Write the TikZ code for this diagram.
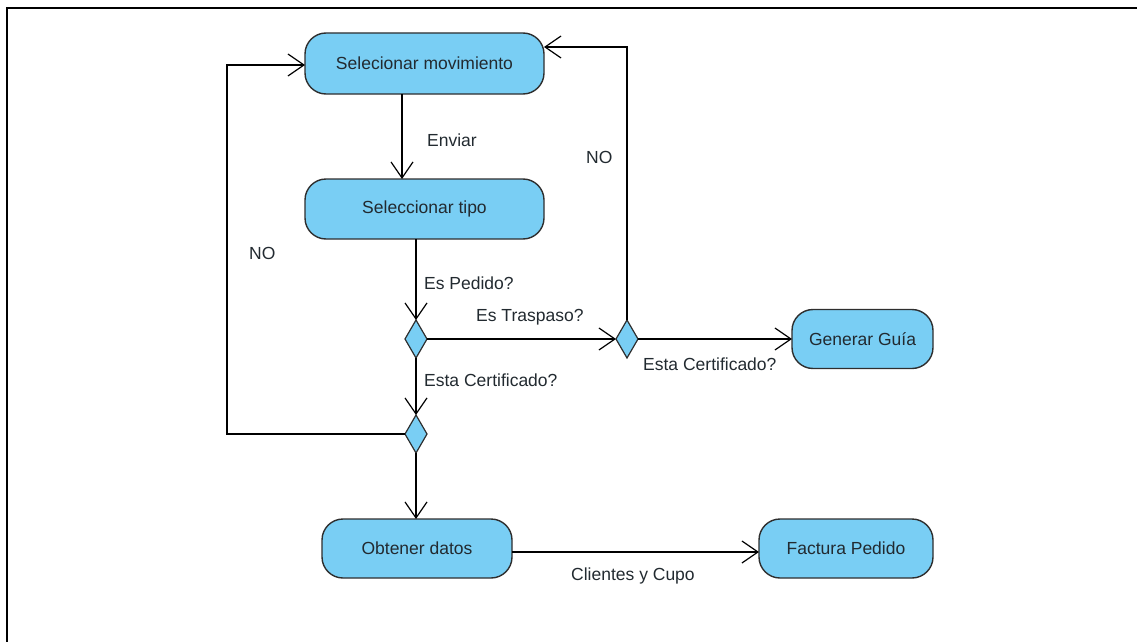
\documentclass[tikz,border=0pt]{standalone}
\usepackage{fontspec}
\setmainfont{Liberation Sans}
\usetikzlibrary{arrows.meta,shapes.geometric}
\definecolor{actfill}{HTML}{79CEF4}
\definecolor{actline}{HTML}{2E2E2E}
\definecolor{txt}{HTML}{222A30}
\begin{document}
\begin{tikzpicture}[x=1pt,y=-1pt,
  action/.style={draw=actline,fill=actfill,line width=1.4pt,rounded corners=21pt,
    inner sep=0pt,outer sep=0pt,text=txt,font=\fontsize{17.5}{20}\selectfont},
  decision/.style={diamond,draw=actline,fill=actfill,line width=1.2pt,
    minimum width=22pt,minimum height=38pt,inner sep=0pt,outer sep=0pt},
  flow/.style={draw=black,line width=1.2pt,
    -{Straight Barb[length=16pt,width=22pt,line width=1.2pt]}},
  lbl/.style={text=txt,font=\fontsize{17.5}{20}\selectfont,inner sep=0pt}]
\useasboundingbox (0,0) rectangle (1137,642);
% frame
\draw[line width=2pt] (6.5,642) -- (6.5,8.5) -- (1137,8.5);

% activities
\node[action,minimum width=239pt,minimum height=61pt] (selmov) at (424.5,63.5) {Selecionar movimiento};
\node[action,minimum width=239pt,minimum height=60pt] (seltipo) at (424.5,209) {Seleccionar tipo};
\node[action,minimum width=141pt,minimum height=59pt] (guia) at (862.5,339) {Generar Guía};
\node[action,minimum width=190pt,minimum height=59pt] (obt) at (417,548.5) {Obtener datos};
\node[action,minimum width=174pt,minimum height=59pt] (fact) at (846,548.5) {Factura Pedido};

% decisions
\node[decision] (d1) at (416,339) {};
\node[decision] (d2) at (627,339) {};
\node[decision] (d3) at (416,434) {};

% helper coordinates for bends and offsets
\coordinate (xa) at (402,0);
\coordinate (lb) at (227,65);
\coordinate (rt) at (627,47);
\coordinate (yc) at (0,552);

% connectors
\draw[flow] (selmov.south -| xa) -- (seltipo.north -| xa);
\draw[flow] (seltipo.south -| d1) -- (d1.north);
\draw[flow] (d1.east) -- (d2.west);
\draw[flow] (d2.east) -- (guia.west |- d2);
\draw[flow] (d2.north) -- (rt) -- (selmov.east |- rt);
\draw[flow] (d1.south) -- (d3.north);
\draw[flow] (d3.west) -- (lb |- d3) -- (lb) -- (selmov.west |- lb);
\draw[flow] (d3.south) -- (obt.north -| d3);
\draw[flow] (obt.east |- yc) -- (fact.west |- yc);

% labels
\node[lbl,anchor=west] (l1) at (427,140) {Enviar};
\node[lbl,anchor=west] (l2) at (424,283) {Es Pedido?};
\node[lbl,anchor=west] (l3) at (476,317) {Es Traspaso?};
\node[lbl,anchor=west] (l4) at (643,364) {Esta Certificado?};
\node[lbl,anchor=west] (l5) at (424,380) {Esta Certificado?};
\node[lbl,anchor=west] (l6) at (586,157) {NO};
\node[lbl,anchor=west] (l7) at (249,253) {NO};
\node[lbl,anchor=west] (l8) at (571,576) {Clientes y Cupo};
\end{tikzpicture}
\end{document}
